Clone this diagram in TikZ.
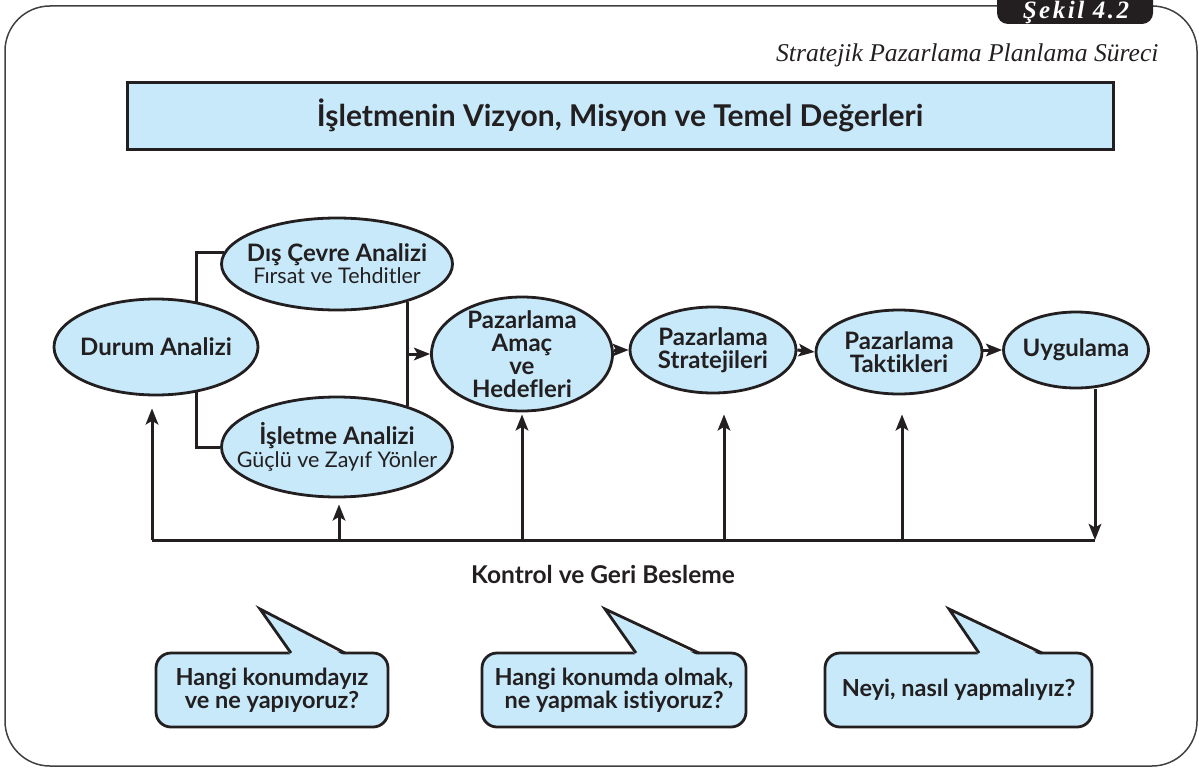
\documentclass[tikz,border=0pt]{standalone}
\usepackage{fontspec}
\setmainfont{Lato}[Ligatures=NoCommon]
\newfontfamily\oldserif{Liberation Serif}
\newfontfamily\tabserif{Liberation Serif}[LetterSpace=10]
\usetikzlibrary{shapes.geometric,arrows.meta}
\definecolor{ink}{HTML}{231F20}
\definecolor{skyfill}{HTML}{C7E9F9}
\definecolor{framegray}{HTML}{404040}
\newcommand\ovalsubline{\fontsize{21.5}{23}\selectfont\mdseries}
\begin{document}
\begin{tikzpicture}[x=1pt,y=-1pt,
  every node/.style={text=ink},
  oval/.style={ellipse, draw=ink, line width=2.8pt, fill=skyfill, inner sep=0pt},
  ovaltext/.style={inner sep=0pt, align=center, font=\fontsize{24}{23}\selectfont\bfseries},
  link/.style={draw=ink, line width=3pt},
  arr/.style={link, -{Stealth[length=16pt,width=12.5pt,inset=3.5pt]}},
  titlebox/.style={rectangle, draw=ink, line width=3pt, fill=skyfill, inner sep=0pt,
    minimum width=986pt, minimum height=67pt, font=\fontsize{30}{32}\selectfont\bfseries},
  bubblebox/.style={rectangle, rounded corners=15pt, draw=ink, line width=2.8pt, fill=skyfill,
    inner sep=0pt, align=center, minimum height=74pt, font=\fontsize{23.5}{22.5}\selectfont\bfseries},
  tail/.style={draw=ink, line width=2.8pt, line join=miter}
]
\useasboundingbox (0,0) rectangle (1199,768);

% outer frame and figure tab
\draw[framegray, line width=1.5pt, rounded corners=45pt]
  (997,6) -- (5,6) -- (5,766) -- (1197,766) -- (1197,6) -- (1153,6);
\fill[ink, rounded corners=11pt] (997,-15) rectangle (1153,24);
\node[anchor=base, text=white, font=\tabserif\bfseries\itshape\fontsize{25}{25}\selectfont] (tab) at (1076,19) {Şekil 4.2};
\node[anchor=base east, font=\oldserif\itshape\fontsize{25.6}{26}\selectfont] (subtitle) at (1162,62)
  {Stratejik Pazarlama Planlama Süreci};

% vision box
\node[titlebox] (vision) at (620,115.5) {İşletmenin Vizyon, Misyon ve Temel Değerleri};

% process ovals
\node[oval, minimum width=204pt, minimum height=96pt] (durum) at (156,347) {};
\node[ovaltext] (durumT) at (durum.center) {Durum Analizi};
\node[oval, minimum width=231pt, minimum height=92pt] (dis) at (337,264) {};
\node[ovaltext] (disT) at (dis.center) {Dış Çevre Analizi\\[-1pt]{\ovalsubline Fırsat ve Tehditler}};
\node[oval, minimum width=231pt, minimum height=100pt] (isl) at (337,447) {};
\node[ovaltext] (islT) at (isl.center) {İşletme Analizi\\[0pt]{\ovalsubline Güçlü ve Zayıf Yönler}};
\node[oval, minimum width=181pt, minimum height=114pt] (amac) at (522,354) {};
\node[ovaltext] (amacT) at (amac.center) {Pazarlama\\Amaç\\ve\\Hedefleri};
\node[oval, minimum width=166pt, minimum height=86pt] (strat) at (713,350) {};
\node[ovaltext] (stratT) at (strat.center) {Pazarlama\\Stratejileri};
\node[oval, minimum width=166pt, minimum height=84pt] (takt) at (899,352) {};
\node[ovaltext] (taktT) at (takt.center) {Pazarlama\\Taktikleri};
\node[oval, minimum width=145pt, minimum height=76pt] (uyg) at (1076,350) {};
\node[ovaltext] (uygT) at (uyg.center) {Uygulama};

% situation analysis branches
\draw[link] (durum.48) |- (dis.174);
\draw[link] (durum.-48) |- (isl.180);
\draw[link] (dis.-28) -- (dis.-28 |- isl.30);
\draw[arr] (dis.-28 |- amac.west) -- (amac.west);

% main flow
\draw[arr] (amac.east |- strat.west) -- (strat.west);
\draw[arr] (strat.east) -- (takt.west);
\draw[arr] (takt.east |- uyg.west) -- (uyg.west);

% control and feedback loop
\coordinate (fbL) at (152,540);
\coordinate (fbR) at (1095,540);
\coordinate (fb2) at (339,540);
\coordinate (fb3) at (522,540);
\coordinate (fb4) at (724,540);
\coordinate (fb5) at (902,540);
\draw[arr] (uyg.south -| fbR) -- (fbR);
\draw[link] (fbL) -- (fbR);
\draw[arr, shorten >=12pt] (fbL) -- (fbL |- durum.south);
\draw[arr, shorten >=6pt] (fb2) -- (fb2 |- isl.south);
\draw[arr, shorten >=2pt] (fb3) -- (fb3 |- amac.south);
\draw[arr, shorten >=20pt] (fb4) -- (fb4 |- strat.south);
\draw[arr, shorten >=19pt] (fb5) -- (fb5 |- takt.south);
\node[font=\fontsize{24.5}{26}\selectfont\bfseries] (feedback) at (603,574) {Kontrol ve Geri Besleme};

% question bubbles
\node[bubblebox, minimum width=232pt] (q1) at (272,690) {Hangi konumdayız\\ve ne yapıyoruz?};
\fill[skyfill] (291,656) -- (260,609) -- (345,656) -- cycle;
\draw[tail] (291,653) -- (260,609) -- (345,653);

\node[bubblebox, minimum width=264pt] (q2) at (614,690) {Hangi konumda olmak,\\ne yapmak istiyoruz?};
\fill[skyfill] (636,656) -- (605,609) -- (699,656) -- cycle;
\draw[tail] (636,653) -- (605,609) -- (699,653);

\node[bubblebox, minimum width=267pt] (q3) at (958.5,690) {Neyi, nasıl yapmalıyız?};
\fill[skyfill] (979,656) -- (949,609) -- (1042,656) -- cycle;
\draw[tail] (979,653) -- (949,609) -- (1042,653);
\end{tikzpicture}
\end{document}
